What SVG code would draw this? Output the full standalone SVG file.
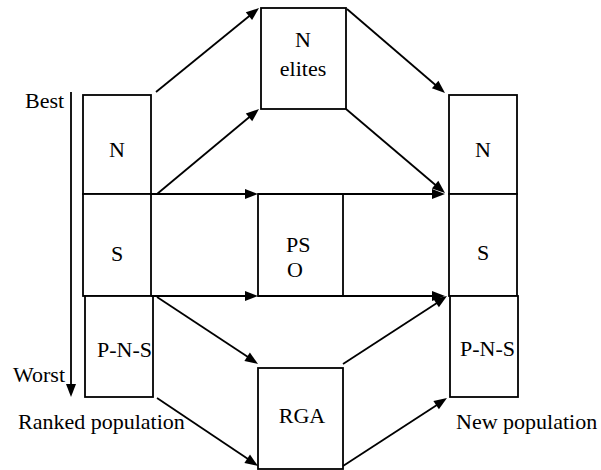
<svg xmlns="http://www.w3.org/2000/svg" width="601" height="470" viewBox="0 0 601 470">
<rect width="601" height="470" fill="#fff"/>
<g id="ranked" fill="#fff" stroke="#000" stroke-width="1.8">
<rect x="83" y="95" width="68" height="99"/>
<rect x="83" y="194" width="68" height="102"/>
<rect x="85" y="296" width="68" height="101"/>
</g>
<g id="ranked-labels" font-family="Liberation Serif" font-size="22" fill="#000">
<text text-anchor="middle" x="117" y="157">N</text>
<text text-anchor="middle" x="117" y="261">S</text>
<text x="97" y="357">P-N-S</text>
<text x="25" y="108">Best</text>
<text x="13" y="382">Worst</text>
<text x="18" y="429">Ranked population</text>
</g>
<g id="elites">
<rect x="261" y="8" width="85" height="101" fill="#fff" stroke="#000" stroke-width="1.8"/>
<text font-family="Liberation Serif" font-size="22" text-anchor="middle" x="303" y="47">N</text>
<text font-family="Liberation Serif" font-size="22" text-anchor="middle" x="303" y="76">elites</text>
</g>
<g id="pso">
<rect x="258" y="194" width="85" height="102" fill="#fff" stroke="#000" stroke-width="1.8"/>
<text font-family="Liberation Serif" font-size="22" x="286" y="252">PS</text>
<text font-family="Liberation Serif" font-size="22" x="287" y="277">O</text>
</g>
<g id="rga">
<rect x="258" y="368" width="85" height="101" fill="#fff" stroke="#000" stroke-width="1.8"/>
<text font-family="Liberation Serif" font-size="22" text-anchor="middle" x="302" y="423">RGA</text>
</g>
<g id="newpop" fill="#fff" stroke="#000" stroke-width="1.8">
<rect x="449" y="95" width="68" height="99"/>
<rect x="449" y="194" width="68" height="102"/>
<rect x="450" y="296" width="68" height="101"/>
</g>
<g id="newpop-labels" font-family="Liberation Serif" font-size="22" fill="#000">
<text text-anchor="middle" x="483" y="157">N</text>
<text text-anchor="middle" x="483" y="260">S</text>
<text x="460" y="356">P-N-S</text>
<text x="456" y="429">New population</text>
</g>
<g id="connectors">
<g fill="none" stroke="#000" stroke-width="1.8">
<path d="M71,92 L71,390"/>
<path d="M156,92 L253,13"/>
<path d="M157,194 L253,114"/>
<path d="M347,9 L439,88"/>
<path d="M346,109 L439,188"/>
<path d="M151,194 L250,194"/>
<path d="M258,194 L437,194"/>
<path d="M151,296 L250,296"/>
<path d="M258,296 L437,296"/>
<path d="M157,297 L251,359"/>
<path d="M157,398 L251,461"/>
<path d="M343,364 L440,301"/>
<path d="M343,466 L440,403"/>
</g>
<g fill="#000" stroke="none">
<polygon points="71,397 76,384 66,384"/>
<polygon points="259,8 252.1,20.1 245.8,12.3"/>
<polygon points="259,109 252.2,121.2 245.8,113.5"/>
<polygon points="445,93 431.9,88.3 438.4,80.7"/>
<polygon points="445,193 431.9,188.4 438.3,180.8"/>
<polygon points="258,194 245,199 245,189"/>
<polygon points="445,194 432,199 432,189"/>
<polygon points="258,296 245,301 245,291"/>
<polygon points="445,296 432,301 432,291"/>
<polygon points="258,364 244.4,361 249.9,352.6"/>
<polygon points="258,466 244.4,462.9 250,454.6"/>
<polygon points="447,296 438.9,307.3 433.4,298.9"/>
<polygon points="447,398 438.9,409.3 433.4,400.9"/>
</g>
</g>
</svg>
